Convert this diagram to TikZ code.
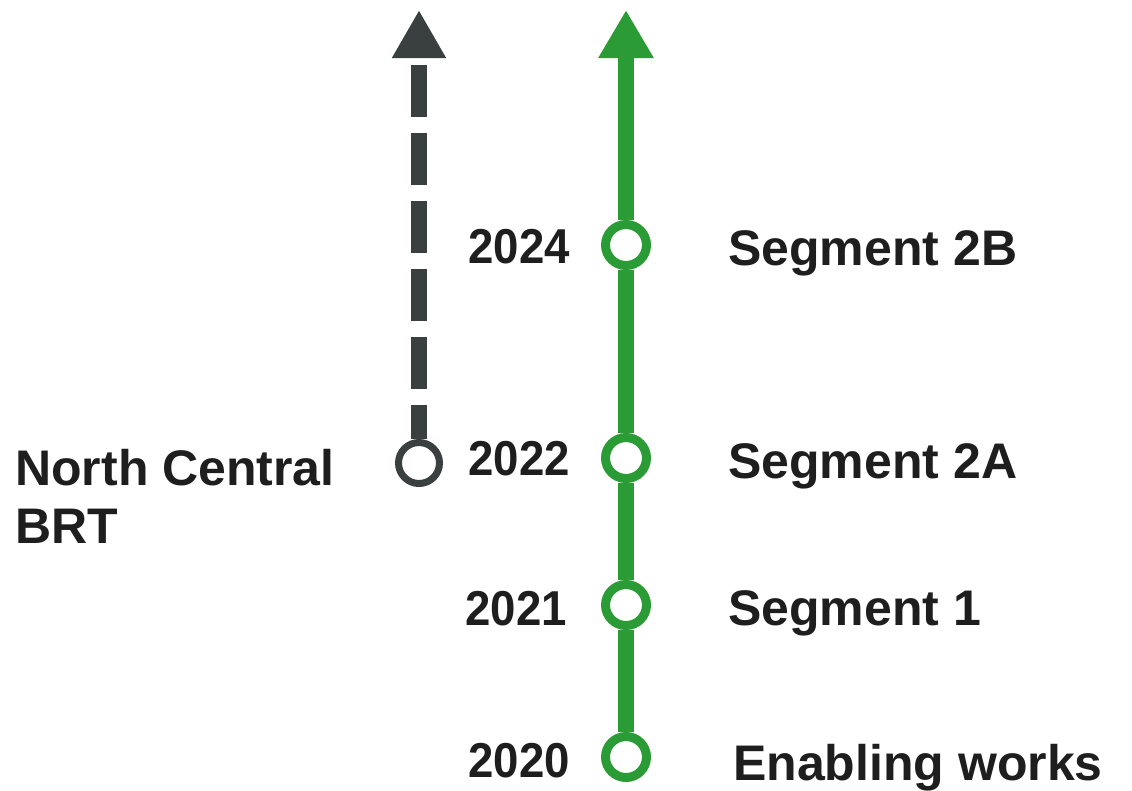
\documentclass[tikz,border=0pt]{standalone}
\usepackage{fontspec}
\setmainfont{Liberation Sans}
\newfontfamily\yearfont[FakeStretch=0.93]{Liberation Sans}
\usetikzlibrary{arrows.meta}
\definecolor{lgreen}{HTML}{2B9B36}
\definecolor{lgray}{HTML}{3A403F}
\definecolor{ink}{HTML}{1E1E1E}
\tikzset{
  gcirc/.style={circle,draw=lgreen,fill=white,line width=6.75pt,minimum size=30.75pt,inner sep=0pt},
  kcirc/.style={circle,draw=lgray,fill=white,line width=5.25pt,minimum size=30.75pt,inner sep=0pt},
  gline/.style={draw=lgreen,line width=12pt},
  kline/.style={draw=lgray,line width=12pt,dash pattern=on 39pt off 12pt,dash phase=43.5pt},
  yearlbl/.style={anchor=base east,inner sep=0pt,text=ink,font=\yearfont\bfseries\fontsize{36.75pt}{44pt}\selectfont},
  seglbl/.style={anchor=base west,inner sep=0pt,text=ink,font=\bfseries\fontsize{37.5pt}{45pt}\selectfont}
}
\begin{document}
\begin{tikzpicture}[x=0.75pt,y=-0.75pt]
\useasboundingbox (0,0) rectangle (1132,790);
% green timeline
\node[gcirc] (c24) at (626,245) {};
\node[gcirc] (c22) at (626,458) {};
\node[gcirc] (c21) at (626,605) {};
\node[gcirc] (c20) at (626,757) {};
\coordinate (gtop) at (626,10);
\draw[gline,-{Triangle[length=36pt,width=39pt]},lgreen] (c24.north) -- (gtop);
\draw[gline] (c24.south) -- (c22.north);
\draw[gline] (c22.south) -- (c21.north);
\draw[gline] (c21.south) -- (c20.north);
% gray dashed line
\node[kcirc] (nc) at (419,463) {};
\coordinate (ktop) at (419,10);
\draw[kline,{Triangle[length=36pt,width=38pt]}-,lgray] (ktop) -- (nc.north);
% labels
\node[yearlbl] (y24) at (570,263) {2024};
\node[yearlbl] (y22) at (570,475) {2022};
\node[yearlbl] (y21) at (567,625) {2021};
\node[yearlbl] (y20) at (570,777) {2020};
\node[seglbl] (s24) at (728,265) {Segment 2B};
\node[seglbl] (s22) at (728,478) {Segment 2A};
\node[seglbl] (s21) at (728,625) {Segment 1};
\node[seglbl] (s20) at (733,780) {Enabling works};
\node[seglbl] (ncl) at (15,485) {North Central};
\node[seglbl] (brt) at (15,543) {BRT};
\end{tikzpicture}
\end{document}
